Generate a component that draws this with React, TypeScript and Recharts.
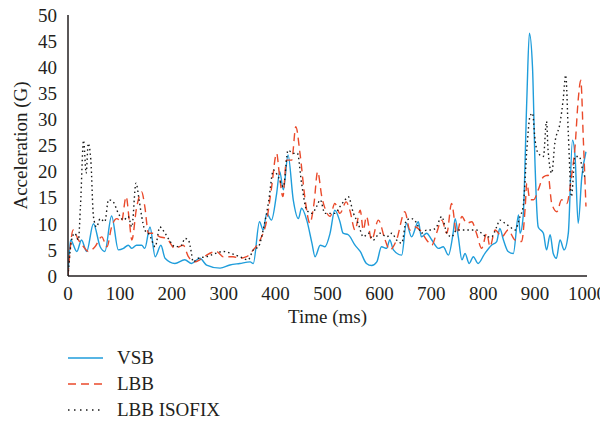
import React from "react"
import { LineChart, Line, XAxis, YAxis } from "recharts"

// [time (ms), acceleration (G)]
const vsb: [number, number][] = [
  [0, 0], [1, 1.8], [5, 6.9], [17, 4.7], [26, 6.9], [36, 4.7], [49, 10], [62, 5.6], [71, 4.7], [84, 11.5],
  [97, 5], [107, 5.3], [116, 5.9], [123, 5.3], [132, 5.9], [142, 5.9], [148, 5.3], [158, 9.4], [168, 3.7],
  [179, 5.9], [187, 3.4], [206, 2.4], [225, 3.1], [238, 2.4], [254, 3.4], [267, 2.1], [293, 1.5], [312, 2.1],
  [331, 2.4], [351, 2.7], [357, 2.4], [369, 10.4], [376, 8.8], [383, 12], [392, 10.7], [402, 15.8], [408, 20],
  [415, 16.5], [424, 23.2], [434, 14.6], [444, 11], [450, 13], [460, 10.7], [470, 6.3], [476, 3.7], [486, 5.9],
  [495, 5.6], [505, 8.2], [514, 12.6], [524, 10.4], [530, 8.2], [540, 7.9], [553, 5.9], [563, 4.7], [575, 2.4],
  [585, 2], [595, 2.7], [604, 5.6], [614, 5.3], [620, 6.9], [627, 5], [643, 4], [652, 10.1], [662, 7.5],
  [675, 10.4], [681, 7.5], [691, 8.2], [701, 6.9], [714, 5.3], [723, 5.6], [733, 4], [742, 8.2], [746, 11],
  [752, 7.5], [759, 3.1], [765, 4.3], [773, 2.4], [781, 3.7], [790, 2.4], [803, 4.3], [816, 5.9], [826, 6.6],
  [832, 9.1], [839, 6.9], [848, 4.7], [858, 4.3], [868, 11.7], [871, 8.2], [877, 11.4], [884, 33.7], [889, 46.5],
  [895, 40], [900, 21], [906, 9.4], [916, 8.2], [922, 5], [929, 7.9], [935, 4.3], [941, 3.4], [948, 6.9],
  [956, 5], [964, 8.2], [972, 26], [977, 22.9], [983, 10.1], [990, 19], [998, 23.8],
]

const lbb: [number, number][] = [
  [0, 0], [10, 8.8], [20, 6.9], [30, 5.6], [39, 4.7], [52, 5.6], [65, 7.5], [75, 5.6], [84, 9.4], [94, 11],
  [103, 10.4], [112, 15.2], [118, 10.7], [123, 6.9], [132, 13], [142, 16.1], [148, 13.3], [155, 8.2], [164, 8.2],
  [177, 7.5], [190, 7.2], [206, 5.3], [222, 5.9], [232, 3.7], [245, 2.7], [254, 3.1], [267, 4], [286, 4.7],
  [299, 3.7], [318, 3.7], [331, 3.4], [344, 3.7], [357, 5], [370, 6.9], [383, 10.7], [392, 16.8], [402, 23.5],
  [407, 19.7], [414, 15.2], [421, 22.2], [431, 22.2], [439, 28.6], [447, 23.5], [457, 14.6], [466, 10.1],
  [474, 13.9], [481, 20], [489, 15.2], [495, 13], [505, 11.4], [514, 13.9], [524, 12], [536, 14.2], [543, 12.6],
  [553, 8.8], [563, 12.6], [569, 8.8], [575, 11.4], [585, 6.9], [598, 10.7], [611, 6.9], [620, 5], [633, 6.9],
  [649, 12.3], [659, 8.8], [669, 9.4], [678, 8.8], [691, 6.9], [701, 5.9], [710, 8.2], [720, 10.7], [730, 8.2],
  [739, 13.9], [749, 8.2], [759, 11.4], [768, 10.1], [778, 10.4], [787, 8.2], [797, 5.3], [807, 8.2], [813, 5.6],
  [823, 8.8], [836, 7.5], [848, 8.8], [861, 6.9], [874, 6.6], [881, 13.3], [884, 17.8], [890, 14.6], [897, 14.6],
  [906, 16.5], [916, 19], [925, 19.3], [932, 13.9], [942, 12.3], [951, 14.6], [961, 13.9], [970, 19], [977, 24.8],
  [983, 33.7], [988, 37.5], [993, 26], [998, 13.3],
]

const lbbIsofix: [number, number][] = [
  [0, 0], [7, 6.9], [13, 8.2], [20, 6.9], [24, 13.3], [30, 26], [35, 19.7], [39, 25.4], [44, 22.2], [49, 11.4],
  [55, 9.4], [62, 11], [71, 10.4], [78, 14.6], [87, 14.2], [97, 12], [107, 10.7], [116, 11.4], [123, 9.4],
  [131, 17.8], [137, 14.6], [142, 11.4], [148, 8.8], [157, 7.9], [168, 5.6], [177, 9.4], [187, 8.2], [197, 6.6],
  [206, 5.6], [219, 5.9], [225, 7.2], [232, 6.9], [238, 4.3], [241, 2.7], [251, 3.4], [267, 3.7], [283, 4.3],
  [299, 4.7], [315, 4.3], [331, 3.7], [347, 3.1], [357, 5], [367, 5.6], [376, 8.8], [386, 13.9], [396, 20.3],
  [405, 19], [415, 17.1], [424, 24.1], [434, 23.5], [442, 23.5], [450, 17.8], [460, 12.6], [470, 12], [479, 13.3],
  [486, 14.6], [495, 12], [505, 12], [514, 12], [524, 13.3], [534, 14.6], [540, 15.2], [550, 12], [559, 10.1],
  [569, 7.5], [579, 8.2], [588, 6.9], [601, 8.2], [614, 7.5], [624, 8.2], [633, 6.9], [643, 6.3], [652, 10.7],
  [662, 11], [672, 10.1], [681, 8.2], [691, 8.8], [701, 8.8], [710, 9.4], [720, 11.4], [730, 8.2], [739, 7.5],
  [749, 8.8], [762, 8.8], [775, 8.8], [787, 8.8], [797, 8.2], [807, 7.5], [816, 7.5], [826, 9.4], [832, 10.7],
  [842, 10.1], [852, 9.4], [861, 8.8], [871, 11.4], [877, 13.3], [884, 24.1], [890, 30.5], [895, 31.2], [900, 26],
  [906, 23.5], [916, 22.9], [922, 29.6], [925, 24.1], [932, 19.7], [938, 25.4], [948, 29.3], [954, 33.7],
  [959, 38.5], [964, 27.3], [970, 15.2], [977, 22.9], [985, 22.9], [993, 19.7], [998, 18.7],
]

const timeTicks = [0, 100, 200, 300, 400, 500, 600, 700, 800, 900, 1000]
const accelTicks = [0, 5, 10, 15, 20, 25, 30, 35, 40, 45, 50]

const FONT = "'Liberation Serif', 'Times New Roman', serif"
const TEXT = "#231f20"

const series = [
  { name: "VSB", pts: vsb, color: "#1f9ddb", dash: undefined, legendDash: undefined },
  { name: "LBB", pts: lbb, color: "#ea4a2b", dash: "8 5", legendDash: "8 5" },
  { name: "LBB ISOFIX", pts: lbbIsofix, color: "#1a1a1a", dash: "1.5 3", legendDash: "1.5 4.5" },
]

const toRows = (pts: [number, number][]) => pts.map(([t, g]) => ({ t, g }))

const App = () => {
  return (
    <div style={{ position: "relative", width: 600, height: 415, marginTop: -5, fontFamily: FONT }}>
      <style>{`.recharts-surface { overflow: visible; }`}</style>
      <LineChart width={600} height={420} margin={{ top: 12, right: 21, left: 0, bottom: 95 }}>
        <XAxis
          dataKey="t"
          type="number"
          domain={[0, 1000]}
          ticks={timeTicks}
          interval={0}
          allowDataOverflow
          height={52}
          tickLine={false}
          tickSize={0}
          tickMargin={11}
          axisLine={{ stroke: "#231f20", strokeWidth: 1.5 }}
          tick={{ fontSize: 19, fontFamily: FONT, fill: TEXT }}
          label={{ value: "Time (ms)", position: "insideBottom", offset: 5, fontSize: 19, fontFamily: FONT, fill: TEXT }}
        />
        <YAxis
          dataKey="g"
          type="number"
          domain={[0, 50]}
          ticks={accelTicks}
          interval={0}
          width={60}
          tickLine={false}
          tickSize={0}
          tickMargin={11}
          axisLine={{ stroke: "#231f20", strokeWidth: 1.5 }}
          tick={{ fontSize: 19, fontFamily: FONT, fill: TEXT }}
          label={{ value: "Acceleration (G)", angle: -90, position: "center", dx: -18, fontSize: 19, fontFamily: FONT, fill: TEXT }}
        />
        {series.map((s) => (
          <Line
            key={s.name}
            name={s.name}
            data={toRows(s.pts)}
            dataKey="g"
            type="monotone"
            stroke={s.color}
            strokeWidth={1.4}
            strokeDasharray={s.dash}
            dot={false}
            activeDot={false}
            isAnimationActive={false}
          />
        ))}
      </LineChart>
      <div style={{ position: "absolute", left: 60, top: 342 }}>
        {series.map((s) => (
          <div key={s.name} style={{ display: "flex", alignItems: "center", height: 26, fontSize: 19, color: TEXT }}>
            <svg width={35} height={4} style={{ marginRight: 14 }}>
              <line x1={0} y1={2} x2={35} y2={2} stroke={s.color} strokeWidth={1.4} strokeDasharray={s.legendDash} />
            </svg>
            <span>{s.name}</span>
          </div>
        ))}
      </div>
    </div>
  )
}

export default App
